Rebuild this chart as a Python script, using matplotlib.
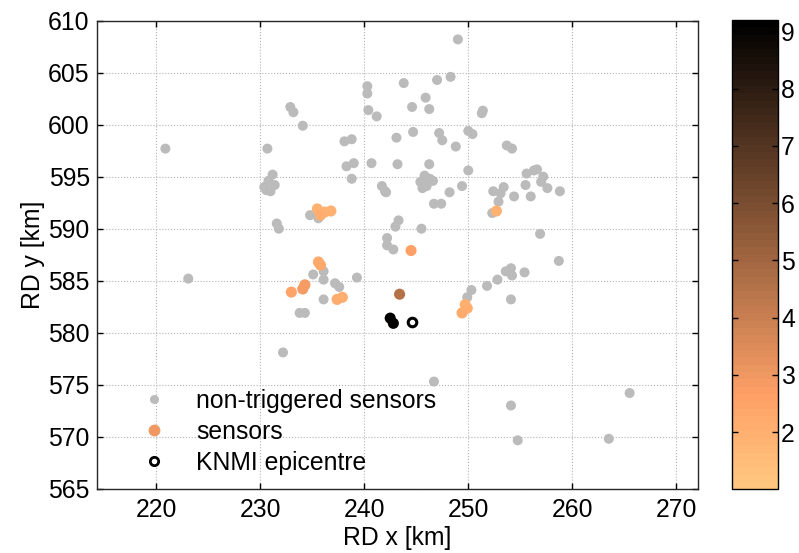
import matplotlib
matplotlib.use("Agg")
import matplotlib.pyplot as plt
from matplotlib.lines import Line2D

plt.rcParams['font.family'] = ['Liberation Sans', 'DejaVu Sans']

# non-triggered sensors, RD coordinates in km
grey_x = [220.9, 223.1, 230.7, 230.4, 230.8, 231.2, 231.0, 231.4, 230.6,
          231.6, 231.8, 232.9, 233.2, 234.1, 232.2, 234.8, 235.6,
          235.1, 236.1, 236.1, 237.2, 237.6, 239.3, 236.1, 233.8, 234.3,
          238.1, 238.8, 238.3, 239.0, 240.7, 238.8,
          240.3, 240.3, 240.4, 241.2, 241.7, 242.0, 242.1,
          243.1, 243.2, 243.8, 244.6, 245.9, 246.25, 247.0, 248.3, 249.0,
          244.7, 247.2, 247.5, 246.25,
          245.4, 245.8, 246.3, 246.0, 245.6, 246.6,
          248.2, 249.4, 246.7, 247.4, 248.8, 250.0, 250.4, 250.0,
          251.4, 251.3, 253.7, 254.2,
          243.0, 243.3, 245.5, 242.2, 242.2, 242.8,
          252.4, 253.4, 253.1, 254.4, 256.0, 258.8, 255.6, 256.3, 257.2,
          257.6, 255.5, 252.9, 256.6, 257.0,
          252.3, 256.9, 258.7,
          253.6, 254.1, 254.2, 255.4, 252.8, 251.8, 250.3, 249.9, 254.1,
          246.7, 254.1, 265.5, 254.75, 263.5]
grey_y = [597.7, 585.2, 597.7, 594.0, 594.6, 595.2, 593.6, 594.2, 593.7,
          590.5, 590.0, 601.7, 601.2, 599.9, 578.1, 591.3, 591.0,
          585.6, 585.9, 585.1, 584.75, 584.4, 585.3, 583.2, 581.9, 581.9,
          598.4, 598.6, 596.0, 596.3, 596.3, 594.8,
          603.7, 603.0, 601.4, 600.8, 594.1, 593.6, 593.5,
          598.75, 596.2, 604.0, 601.7, 602.6, 601.5, 604.3, 604.6, 608.2,
          599.3, 599.2, 598.5, 596.2,
          594.5, 595.1, 594.8, 594.1, 593.9, 594.6,
          593.5, 594.1, 592.4, 592.4, 597.9, 599.4, 599.1, 595.6,
          601.35, 601.1, 598.0, 597.7,
          590.2, 590.8, 590.0, 589.1, 588.4, 588.0,
          593.6, 594.0, 593.4, 593.1, 593.1, 593.6, 595.3, 595.6, 595.0,
          593.9, 594.2, 592.6, 595.7, 594.5,
          591.5, 589.5, 586.9,
          585.9, 586.2, 585.5, 585.8, 585.1, 584.5, 584.1, 583.4, 583.2,
          575.3, 573.0, 574.2, 569.65, 569.8]

# triggered sensors with their colour value
sensor_x = [235.5, 236.2, 236.8, 235.8, 252.7, 244.5, 235.6, 235.8,
            233.0, 234.1, 234.3, 237.4, 237.9, 249.7, 249.9, 249.4,
            243.4, 242.5, 242.8]
sensor_y = [591.9, 591.6, 591.7, 591.3, 591.7, 587.9, 586.8, 586.5,
            583.9, 584.2, 584.6, 583.2, 583.4, 582.7, 582.35, 581.9,
            583.7, 581.4, 580.9]
sensor_val = [2.0, 1.9, 2.0, 2.1, 2.0, 2.6, 2.2, 2.3,
              2.5, 2.9, 2.8, 2.2, 2.1, 2.0, 2.1, 2.2,
              4.5, 9.1, 9.0]

epi_x = [244.6]
epi_y = [581.0]

xticks = [220, 230, 240, 250, 260, 270]
yticks = [565, 570, 575, 580, 585, 590, 595, 600, 605, 610]
cb_ticks = [2, 3, 4, 5, 6, 7, 8, 9]
cmin, cmax = 1.0, 9.2

fs = 17.8
grey = '#bbbbbb'
cmap = plt.get_cmap('copper_r', 64)

fig = plt.figure(figsize=(7.99, 5.53), dpi=100)
ax = fig.add_axes([0.121, 0.1163, 0.753, 0.8463])

ax.scatter(grey_x, grey_y, s=52, color=grey, edgecolors='none', zorder=2)
sc = ax.scatter(sensor_x, sensor_y, s=64, c=sensor_val, cmap=cmap,
                vmin=cmin, vmax=cmax, edgecolors='none', zorder=3)
ax.scatter(epi_x, epi_y, s=38, facecolors='white', edgecolors='k',
           linewidths=2.2, zorder=4)

ax.set_xlim(214.3, 272.1)
ax.set_ylim(565, 610)
ax.set_xticks(xticks)
ax.set_yticks(yticks)
ax.grid(True, linestyle=':', color='0.7', linewidth=0.8)
ax.set_axisbelow(True)
ax.tick_params(direction='in', top=True, right=True, length=4.3,
               labelsize=fs, width=1)
ax.tick_params(axis='x', pad=6.5)
ax.tick_params(axis='y', pad=5)
for sp in ax.spines.values():
    sp.set_linewidth(1)
    sp.set_color('0.15')

ax.set_xlabel('RD x [km]', fontsize=fs, labelpad=3)
ax.set_ylabel('RD y [km]', fontsize=fs, labelpad=2)

handles = [
    Line2D([], [], ls='', marker='o', color=grey, mec='none', markersize=6.5),
    Line2D([], [], ls='', marker='o', color=cmap((3.0 - cmin) / (cmax - cmin)),
           mec='none', markersize=8.5),
    Line2D([], [], ls='', marker='o', mfc='white', mec='k', mew=2,
           markersize=6),
]
ax.legend(handles, ['non-triggered sensors', 'sensors', 'KNMI epicentre'],
          loc='upper left', bbox_to_anchor=(0.0753, 0.213),
          frameon=False, fontsize=fs, handlelength=1.0, handletextpad=1.2,
          labelspacing=0.28, borderpad=0, borderaxespad=0)

cax = fig.add_axes([0.9158, 0.1152, 0.0583, 0.8487])
cb = fig.colorbar(sc, cax=cax, ticks=cb_ticks)
cax.tick_params(direction='in', left=True, right=True, length=4,
                labelsize=fs, pad=2, width=1)
cb.outline.set_linewidth(1)

plt.savefig('out.png', dpi=100)
